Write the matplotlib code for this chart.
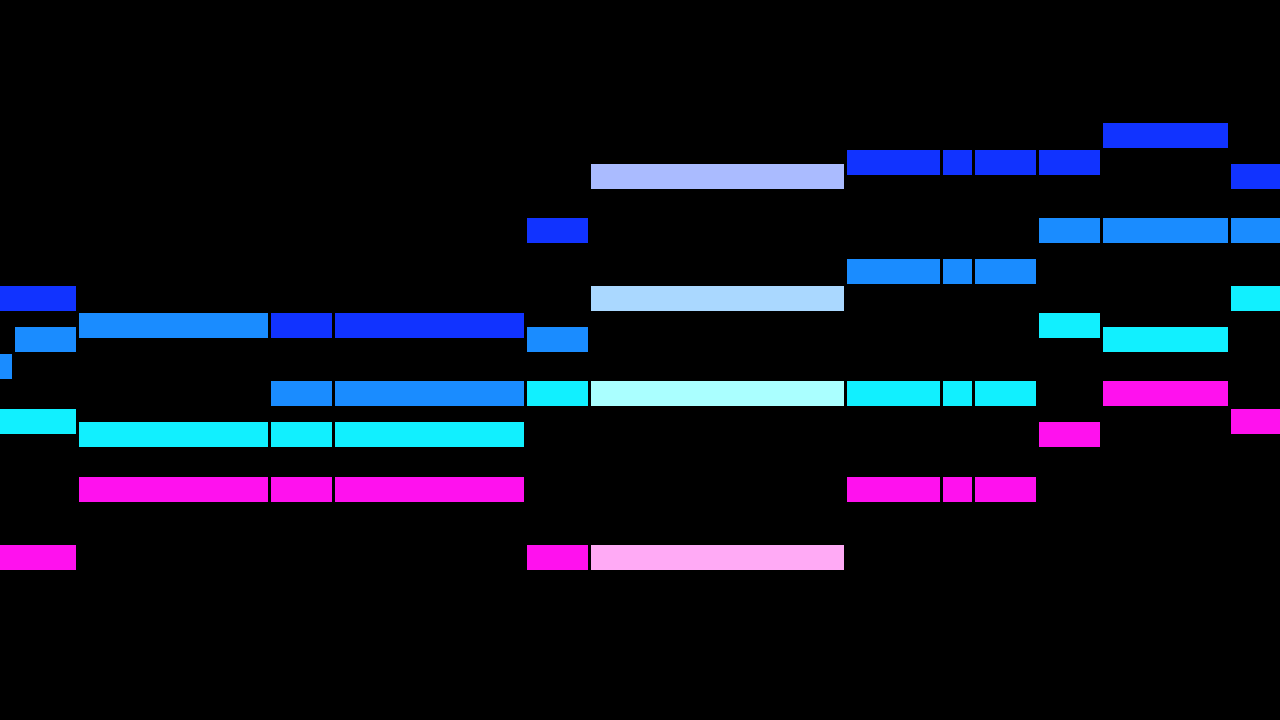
import numpy as np
import matplotlib.pyplot as plt

# piano roll, four voices, time in beats, pitch in midi numbers
playhead = 8.5

v0_start = [-1.5, 3, 4, 7, 8, 12, 13.5, 14, 15, 16, 18]
v0_dur = [1.5, 1, 3, 1, 4, 1.5, 0.5, 1, 1, 2, 1]
v0_pitch = [67, 65, 65, 72, 76, 77, 77, 77, 77, 79, 76]

v1_start = [-2, -1, 0, 3, 4, 7, 8, 12, 13.5, 14, 15, 16, 18]
v1_dur = [1, 1, 3, 1, 3, 1, 4, 1.5, 0.5, 1, 1, 2, 1]
v1_pitch = [62, 64, 65, 60, 60, 64, 67, 69, 69, 69, 72, 72, 72]

v2_start = [-1.5, 0, 3, 4, 7, 8, 12, 13.5, 14, 15, 16, 18]
v2_dur = [1.5, 3, 1, 3, 1, 4, 1.5, 0.5, 1, 1, 2, 1]
v2_pitch = [58, 57, 57, 57, 60, 60, 60, 60, 60, 65, 64, 67]

v3_start = [-1.5, 0, 3, 4, 7, 8, 12, 13.5, 14, 15, 16, 18]
v3_dur = [1.5, 3, 1, 3, 1, 4, 1.5, 0.5, 1, 1, 2, 1]
v3_pitch = [48, 53, 53, 53, 48, 48, 53, 53, 53, 57, 60, 58]

colors = ['#1133ff', '#1a8cff', '#11f0ff', '#ff11ee']
light_colors = ['#aabbff', '#aad8ff', '#aaffff', '#ffaaf5']

voices = [(v0_start, v0_dur, v0_pitch),
          (v1_start, v1_dur, v1_pitch),
          (v2_start, v2_dur, v2_pitch),
          (v3_start, v3_dur, v3_pitch)]

gap = 3 / 64

fig = plt.figure(figsize=(12.8, 7.2), dpi=100, facecolor='black')
ax = fig.add_axes([0, 0, 1, 1])
ax.set_facecolor('black')

for i, (starts, durs, pitches) in enumerate(voices):
    starts = np.array(starts)
    durs = np.array(durs)
    active = (starts <= playhead) & (starts + durs > playhead)
    cols = [light_colors[i] if a else colors[i] for a in active]
    ax.barh(pitches, durs - gap, left=starts, height=1.84, color=cols,
            align='center', linewidth=0)

ax.set_xlim(-79 / 64, 1201 / 64)
ax.set_ylim(36.02, 88.96)
ax.axis('off')

plt.savefig('out.png', dpi=100, facecolor='black')
